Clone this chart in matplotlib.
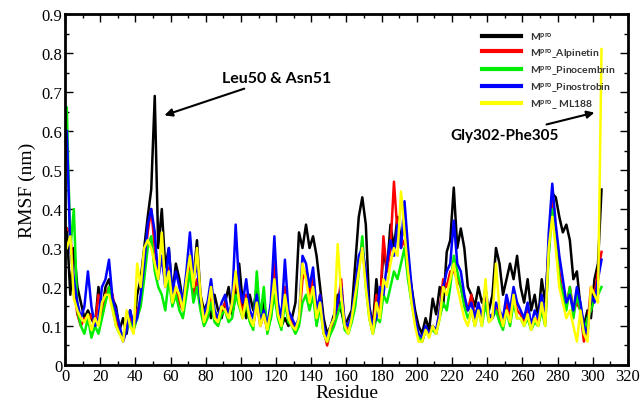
import numpy as np
import matplotlib
matplotlib.use("Agg")
import matplotlib.pyplot as plt

plt.rcParams["mathtext.fontset"] = "custom"
plt.rcParams["mathtext.rm"] = "Lato:bold"
plt.rcParams["mathtext.default"] = "rm"

# residues sampled every 2 (1, 3, ..., 305)
residues = np.arange(1, 307, 2)

mpro = [0.35, 0.18, 0.30, 0.20, 0.16, 0.12, 0.14, 0.12, 0.10, 0.20,
        0.14, 0.20, 0.22, 0.17, 0.15, 0.09, 0.12, 0.08, 0.14, 0.09,
        0.18, 0.22, 0.30, 0.38, 0.45, 0.69, 0.30, 0.40, 0.25, 0.30,
        0.18, 0.26, 0.22, 0.16, 0.20, 0.28, 0.22, 0.32, 0.18, 0.14,
        0.16, 0.12, 0.18, 0.14, 0.12, 0.16, 0.20, 0.13, 0.18, 0.26,
        0.16, 0.12, 0.18, 0.14, 0.20, 0.12, 0.16, 0.10, 0.12, 0.26,
        0.14, 0.10, 0.12, 0.10, 0.12, 0.16, 0.34, 0.30, 0.36, 0.30,
        0.33, 0.28, 0.20, 0.12, 0.08, 0.10, 0.13, 0.18, 0.14, 0.10,
        0.12, 0.14, 0.26, 0.38, 0.43, 0.36, 0.15, 0.10, 0.22, 0.14,
        0.30, 0.24, 0.36, 0.30, 0.38, 0.32, 0.36, 0.26, 0.20, 0.14,
        0.10, 0.08, 0.12, 0.09, 0.17, 0.13, 0.20, 0.15, 0.29, 0.32,
        0.455, 0.30, 0.35, 0.30, 0.20, 0.18, 0.15, 0.20, 0.16, 0.18,
        0.14, 0.18, 0.30, 0.26, 0.18, 0.22, 0.26, 0.22, 0.28, 0.20,
        0.16, 0.22, 0.14, 0.18, 0.12, 0.22, 0.16, 0.30, 0.44, 0.43,
        0.38, 0.34, 0.36, 0.32, 0.22, 0.24, 0.15, 0.10, 0.14, 0.12,
        0.22, 0.26, 0.45]

alpinetin = [0.35, 0.34, 0.20, 0.13, 0.10, 0.12, 0.11, 0.13, 0.10, 0.18,
             0.13, 0.18, 0.20, 0.18, 0.12, 0.09, 0.07, 0.10, 0.12, 0.09,
             0.14, 0.16, 0.26, 0.34, 0.40, 0.30, 0.24, 0.27, 0.22, 0.25,
             0.18, 0.20, 0.16, 0.14, 0.20, 0.26, 0.18, 0.22, 0.16, 0.12,
             0.14, 0.18, 0.13, 0.11, 0.14, 0.16, 0.13, 0.15, 0.22, 0.18,
             0.13, 0.18, 0.12, 0.10, 0.16, 0.10, 0.13, 0.09, 0.14, 0.26,
             0.14, 0.10, 0.20, 0.12, 0.11, 0.09, 0.11, 0.22, 0.24, 0.18,
             0.22, 0.12, 0.18, 0.09, 0.05, 0.09, 0.11, 0.15, 0.22, 0.10,
             0.09, 0.12, 0.18, 0.26, 0.30, 0.22, 0.13, 0.09, 0.18, 0.14,
             0.33, 0.24, 0.30, 0.47, 0.34, 0.30, 0.32, 0.26, 0.18, 0.12,
             0.07, 0.06, 0.09, 0.08, 0.10, 0.08, 0.14, 0.22, 0.20, 0.24,
             0.24, 0.22, 0.20, 0.16, 0.14, 0.18, 0.12, 0.15, 0.11, 0.18,
             0.12, 0.13, 0.15, 0.12, 0.10, 0.16, 0.12, 0.18, 0.14, 0.13,
             0.11, 0.14, 0.10, 0.12, 0.11, 0.16, 0.11, 0.30, 0.42, 0.34,
             0.24, 0.18, 0.15, 0.20, 0.14, 0.16, 0.14, 0.06, 0.10, 0.20,
             0.18, 0.24, 0.29]

pinocembrin = [0.66, 0.30, 0.40, 0.14, 0.10, 0.08, 0.12, 0.07, 0.10, 0.08,
               0.12, 0.16, 0.20, 0.15, 0.10, 0.08, 0.08, 0.09, 0.11, 0.09,
               0.12, 0.15, 0.22, 0.30, 0.33, 0.24, 0.20, 0.18, 0.14, 0.22,
               0.15, 0.18, 0.14, 0.12, 0.18, 0.24, 0.16, 0.20, 0.14, 0.10,
               0.12, 0.16, 0.11, 0.10, 0.13, 0.14, 0.11, 0.12, 0.18, 0.15,
               0.12, 0.16, 0.11, 0.09, 0.24, 0.12, 0.20, 0.08, 0.12, 0.18,
               0.12, 0.09, 0.16, 0.11, 0.10, 0.08, 0.10, 0.16, 0.18, 0.14,
               0.18, 0.10, 0.15, 0.08, 0.06, 0.08, 0.10, 0.13, 0.16, 0.09,
               0.08, 0.11, 0.15, 0.24, 0.33, 0.20, 0.12, 0.08, 0.12, 0.11,
               0.18, 0.16, 0.20, 0.24, 0.22, 0.26, 0.30, 0.22, 0.16, 0.11,
               0.07, 0.06, 0.09, 0.08, 0.09, 0.08, 0.12, 0.16, 0.14, 0.20,
               0.28, 0.24, 0.20, 0.15, 0.12, 0.14, 0.10, 0.14, 0.10, 0.16,
               0.11, 0.12, 0.14, 0.11, 0.09, 0.14, 0.10, 0.16, 0.12, 0.12,
               0.10, 0.12, 0.09, 0.11, 0.10, 0.14, 0.10, 0.28, 0.40, 0.32,
               0.22, 0.18, 0.14, 0.20, 0.12, 0.18, 0.14, 0.08, 0.12, 0.14,
               0.17, 0.18, 0.20]

pinostrobin = [0.60, 0.30, 0.22, 0.16, 0.12, 0.15, 0.24, 0.15, 0.10, 0.12,
               0.20, 0.22, 0.27, 0.17, 0.14, 0.10, 0.06, 0.09, 0.14, 0.10,
               0.12, 0.18, 0.26, 0.36, 0.40, 0.34, 0.22, 0.28, 0.20, 0.30,
               0.18, 0.24, 0.20, 0.16, 0.24, 0.34, 0.22, 0.26, 0.16, 0.13,
               0.16, 0.22, 0.14, 0.12, 0.16, 0.18, 0.13, 0.16, 0.36, 0.20,
               0.16, 0.22, 0.14, 0.12, 0.18, 0.11, 0.14, 0.10, 0.16, 0.33,
               0.16, 0.12, 0.27, 0.14, 0.12, 0.10, 0.12, 0.28, 0.26, 0.20,
               0.25, 0.14, 0.18, 0.10, 0.07, 0.10, 0.12, 0.16, 0.20, 0.11,
               0.10, 0.13, 0.20, 0.28, 0.30, 0.24, 0.14, 0.10, 0.12, 0.20,
               0.18, 0.26, 0.32, 0.28, 0.36, 0.30, 0.42, 0.30, 0.20, 0.12,
               0.08, 0.07, 0.10, 0.08, 0.10, 0.09, 0.14, 0.20, 0.24, 0.26,
               0.37, 0.26, 0.24, 0.18, 0.14, 0.16, 0.12, 0.16, 0.12, 0.20,
               0.13, 0.12, 0.16, 0.14, 0.12, 0.18, 0.14, 0.20, 0.16, 0.14,
               0.12, 0.16, 0.10, 0.14, 0.12, 0.18, 0.12, 0.34, 0.465, 0.36,
               0.28, 0.22, 0.16, 0.18, 0.14, 0.20, 0.16, 0.10, 0.08, 0.18,
               0.16, 0.22, 0.27]

ml188 = [0.30, 0.33, 0.17, 0.14, 0.12, 0.11, 0.13, 0.09, 0.12, 0.10,
         0.16, 0.18, 0.18, 0.14, 0.10, 0.08, 0.06, 0.14, 0.10, 0.08,
         0.26, 0.20, 0.30, 0.32, 0.30, 0.26, 0.22, 0.34, 0.20, 0.24,
         0.16, 0.20, 0.18, 0.14, 0.22, 0.28, 0.20, 0.30, 0.18, 0.11,
         0.14, 0.20, 0.12, 0.11, 0.15, 0.14, 0.12, 0.16, 0.24, 0.16,
         0.12, 0.17, 0.12, 0.10, 0.16, 0.10, 0.13, 0.09, 0.14, 0.22,
         0.13, 0.10, 0.18, 0.12, 0.10, 0.09, 0.12, 0.26, 0.22, 0.16,
         0.20, 0.12, 0.16, 0.08, 0.06, 0.10, 0.12, 0.31, 0.18, 0.10,
         0.08, 0.12, 0.18, 0.24, 0.30, 0.20, 0.12, 0.08, 0.16, 0.12,
         0.22, 0.20, 0.26, 0.30, 0.28, 0.445, 0.34, 0.24, 0.16, 0.10,
         0.06, 0.06, 0.09, 0.07, 0.10, 0.08, 0.12, 0.20, 0.18, 0.22,
         0.26, 0.20, 0.16, 0.12, 0.10, 0.14, 0.10, 0.14, 0.10, 0.22,
         0.11, 0.12, 0.26, 0.14, 0.10, 0.14, 0.11, 0.18, 0.12, 0.12,
         0.10, 0.13, 0.09, 0.12, 0.10, 0.16, 0.10, 0.30, 0.38, 0.30,
         0.20, 0.16, 0.12, 0.14, 0.10, 0.06, 0.14, 0.08, 0.06, 0.20,
         0.18, 0.16, 0.81]

series = [
    (mpro, "#000000", r"M$^{pro}$"),
    (alpinetin, "#ff0000", r"M$^{pro}$_Alpinetin"),
    (pinocembrin, "#00ee00", r"M$^{pro}$_Pinocembrin"),
    (pinostrobin, "#0000ff", r"M$^{pro}$_Pinostrobin"),
    (ml188, "#ffff00", r"M$^{pro}$_ ML188"),
]

fig = plt.figure(figsize=(6.44, 4.02), dpi=100)
ax = fig.add_axes([0.101, 0.0896, 0.874, 0.873])

for vals, col, lab in series:
    ax.plot(residues, vals, color=col, lw=1.8, label=lab)

ax.set_xlim(0, 320)
ax.set_ylim(0, 0.9)
ax.set_xticks(np.arange(0, 321, 20))
ax.set_xticks(np.arange(0, 321, 10), minor=True)
ax.set_yticks(np.arange(0, 0.91, 0.1))
ax.set_yticks(np.arange(0, 0.91, 0.05), minor=True)
ax.set_yticklabels(["0"] + ["%.1f" % v for v in np.arange(0.1, 0.91, 0.1)])
ax.tick_params(which="both", direction="in", top=True, right=True, width=1)
ax.tick_params(which="major", length=6, labelsize=12, pad=2)
ax.tick_params(which="minor", length=3)
for lbl in ax.get_xticklabels() + ax.get_yticklabels():
    lbl.set_family("Liberation Serif")
for sp in ax.spines.values():
    sp.set_linewidth(2)

ax.set_xlabel("Residue", family="Liberation Serif", fontsize=14, labelpad=0)
ax.set_ylabel("RMSF (nm)", family="Liberation Serif", fontsize=14, labelpad=4)

leg = ax.legend(loc="upper right", bbox_to_anchor=(0.985, 0.965), frameon=False,
                prop={"family": "Lato", "weight": "bold", "size": 7.5},
                handlelength=3.8, labelspacing=0.3, borderaxespad=0)
for h in leg.get_lines():
    h.set_linewidth(3)
for t in leg.get_texts():
    t.set_color("#333333")

ax.annotate("Leu50 & Asn51", xy=(55, 0.638), xytext=(89, 0.736),
            fontsize=11.5, fontweight="bold", family="Lato", va="center",
            arrowprops=dict(arrowstyle="-|>", color="black", lw=1.5))
ax.annotate("Gly302-Phe305", xy=(302.5, 0.649), xytext=(219, 0.59),
            fontsize=11, fontweight="bold", family="Lato", va="center",
            arrowprops=dict(arrowstyle="-|>", color="black", lw=1.5))

fig.savefig("out.png", dpi=100)
